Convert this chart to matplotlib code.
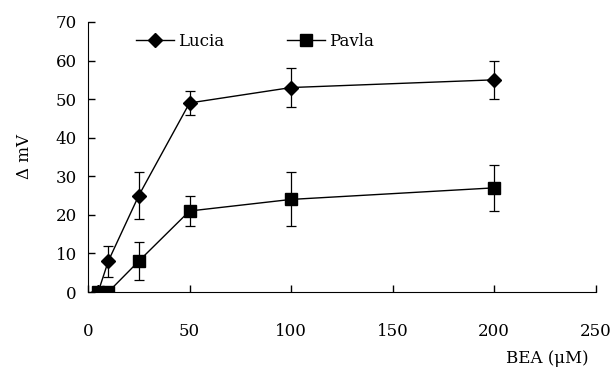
import matplotlib
matplotlib.use("Agg")
import matplotlib.pyplot as plt

conc = [5, 10, 25, 50, 100, 200]
lucia = [0, 8, 25, 49, 53, 55]
lucia_err = [0, 4, 6, 3, 5, 5]
pavla = [0, 0, 8, 21, 24, 27]
pavla_err = [0, 0, 5, 4, 7, 6]

plt.rcParams["font.family"] = ["DejaVu Serif"]
plt.rcParams["font.size"] = 12

fig = plt.figure(figsize=(6.11, 3.72), dpi=100)
ax = fig.add_axes([0.144, 0.215, 0.831, 0.726])

ekw = dict(fmt="none", ecolor="k", capsize=3.5, elinewidth=0.9, capthick=0.9)
ax.errorbar(conc, lucia, yerr=lucia_err, **ekw)
ax.errorbar(conc, pavla, yerr=pavla_err, **ekw)
ax.plot(conc, lucia, "k-", marker="D", ms=7, lw=1, label="Lucia")
ax.plot(conc, pavla, "k-", marker="s", ms=9, lw=1, label="Pavla")

ax.set_xlim(0, 250)
ax.set_ylim(0, 70)
ax.set_xticks([0, 50, 100, 150, 200, 250])
ax.set_yticks(range(0, 71, 10))
ax.tick_params(direction="in", length=5, width=1)
ax.tick_params(axis="x", pad=22)
ax.tick_params(axis="y", pad=8)
for s in ["top", "right"]:
    ax.spines[s].set_visible(False)

ax.set_ylabel("Δ mV", labelpad=16)
ax.text(0.905, -0.245, "BEA (μM)", transform=ax.transAxes, ha="center", va="center")

ax.legend(loc="upper left", ncol=2, frameon=False, bbox_to_anchor=(0.065, 1.015),
          handlelength=2.3, handletextpad=0.2, columnspacing=3.8, numpoints=1)

fig.savefig("out.png", dpi=100)
